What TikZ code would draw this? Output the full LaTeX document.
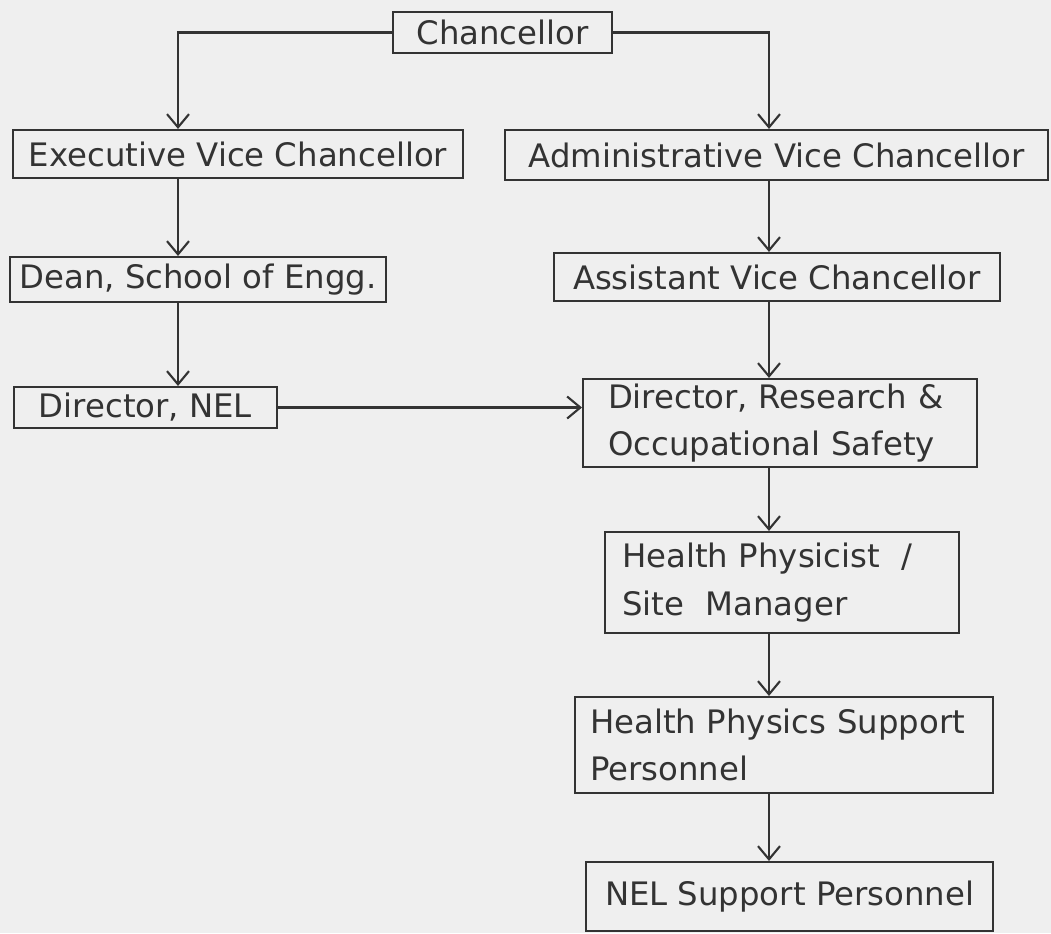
\documentclass[tikz,border=0pt]{standalone}
\usepackage{fontspec}
\newfontfamily\plotfont{DejaVu Sans}
\usetikzlibrary{arrows.meta,calc,positioning}
\definecolor{paper}{HTML}{EFEFEF}
\definecolor{ink}{HTML}{333333}
\tikzset{every picture/.style={line width=1.2pt},
  every node/.style={font=\plotfont\fontsize{18.4}{27}\selectfont,text=ink},
  unitbox/.style={draw=ink,inner sep=0pt},
  twoline/.style={unitbox,align=left},
  link/.style={-{Straight Barb[length=7.5pt,width=12.5pt]},draw=ink}}
\begin{document}
\begin{tikzpicture}[x=0.02cm,y=-0.02cm]
\fill[paper] (0,0) rectangle (1051,933);
\path[use as bounding box] (0,0) rectangle (1051,933);

\coordinate (ltrunk) at (178,0);\coordinate (rtrunk) at (769,0);

\node[unitbox,minimum width=4.38cm,minimum height=.82cm] (chan) at (502.5,32.5) {Chancellor};
\node[unitbox,minimum width=9cm,minimum height=.96cm] (evc) at (238,154) {Executive Vice Chancellor};
\node[unitbox,minimum width=10.86cm,minimum height=1cm] (avc) at (776.5,155) {Administrative Vice Chancellor};
\node[unitbox,minimum width=7.52cm,minimum height=.9cm] (dean) at (198,279.5) {Dean, School of Engg.};
\node[unitbox,minimum width=8.92cm,minimum height=.96cm] (asvc) at (777,277) {Assistant Vice Chancellor};
\node[unitbox,minimum width=5.26cm,minimum height=.82cm] (dnel) at (145.5,407.5) {Director, NEL};
\node[twoline,inner xsep=.5cm,text width=6.88cm,minimum height=1.76cm] (dros) at (780,423)
  {Director, Research \&\\Occupational Safety};
\node[twoline,inner xsep=.34cm,text width=6.4cm,minimum height=2.02cm] (hpsm) at (782,582.5)
  {Health Physicist \ /\\Site \ Manager};
\node[twoline,inner xsep=.3cm,text width=7.76cm,minimum height=1.92cm] (hpsp) at (784,745)
  {Health Physics Support\\Personnel};
\node[unitbox,minimum width=8.14cm,minimum height=1.38cm] (nelsp) at (789.5,896.5) {NEL Support Personnel};

\draw[link] (chan.west) -| (evc.north -| ltrunk);
\draw[link] (chan.east) -| (avc.north -| rtrunk);
\draw[link] (evc.south -| ltrunk) -- (dean.north -| ltrunk);
\draw[link] (dean.south -| ltrunk) -- (dnel.north -| ltrunk);
\draw[link] (dnel.east) -- (dnel.east -| dros.west);
\draw[link] (avc.south -| rtrunk) -- (asvc.north -| rtrunk);
\draw[link] (asvc.south -| rtrunk) -- (dros.north -| rtrunk);
\draw[link] (dros.south -| rtrunk) -- (hpsm.north -| rtrunk);
\draw[link] (hpsm.south -| rtrunk) -- (hpsp.north -| rtrunk);
\draw[link] (hpsp.south -| rtrunk) -- (nelsp.north -| rtrunk);
\end{tikzpicture}
\end{document}
